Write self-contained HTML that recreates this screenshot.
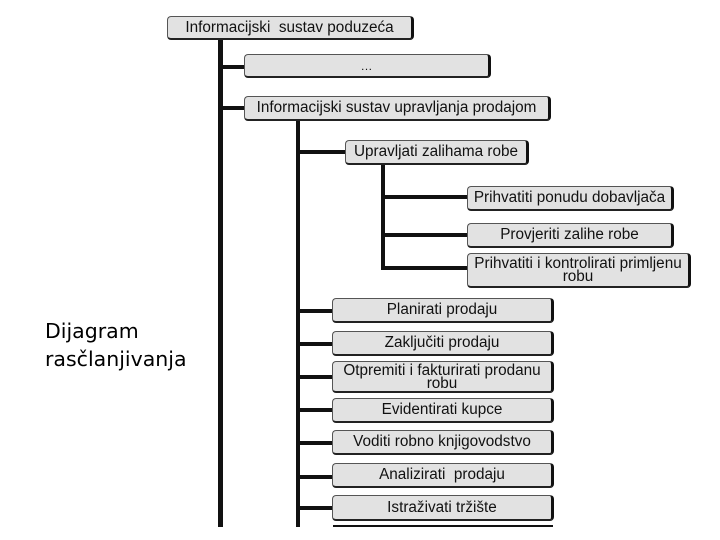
<!DOCTYPE html>
<html><head><meta charset="utf-8"><style>
body{margin:0;width:720px;height:540px;background:#fff;position:relative;overflow:hidden;font-family:"Liberation Sans",Arial,sans-serif}
.b{position:absolute;box-sizing:border-box;background:#e2e2e2;border:1px solid #555;border-right:3px solid #111;border-bottom:2px solid #222;border-radius:4px;font-size:15.3px;color:#111;text-align:center;line-height:14px;display:flex;align-items:center;justify-content:center;white-space:nowrap}
.l{position:absolute;background:#111}
.t{position:absolute;left:45px;top:317px;font-family:"DejaVu Sans",sans-serif;font-size:20.5px;line-height:28px;color:#000}
</style></head><body>
<div class="l" style="left:218px;top:38px;width:5px;height:489px"></div>
<div class="l" style="left:220px;top:65px;width:25px;height:4px"></div>
<div class="l" style="left:220px;top:106px;width:25px;height:4px"></div>
<div class="l" style="left:296px;top:120px;width:4px;height:407px"></div>
<div class="l" style="left:298px;top:150px;width:48px;height:4px"></div>
<div class="l" style="left:381px;top:164px;width:4px;height:106px"></div>
<div class="l" style="left:383px;top:195px;width:85px;height:4px"></div>
<div class="l" style="left:383px;top:233px;width:85px;height:4px"></div>
<div class="l" style="left:383px;top:266px;width:85px;height:4px"></div>
<div class="l" style="left:298px;top:309px;width:35px;height:4px"></div>
<div class="l" style="left:298px;top:342px;width:35px;height:4px"></div>
<div class="l" style="left:298px;top:375px;width:35px;height:4px"></div>
<div class="l" style="left:298px;top:408px;width:35px;height:4px"></div>
<div class="l" style="left:298px;top:441px;width:35px;height:4px"></div>
<div class="l" style="left:298px;top:475px;width:35px;height:4px"></div>
<div class="l" style="left:298px;top:506px;width:35px;height:4px"></div>
<div class="l" style="left:333px;top:525px;width:220px;height:2px"></div>

<div class="b" style="left:167px;top:16px;width:247px;height:24px">Informacijski &nbsp;sustav poduzeća</div>
<div class="b" style="left:244px;top:54px;width:247px;height:24px;font-size:12px">…</div>
<div class="b" style="left:244px;top:96px;width:307px;height:25px">Informacijski sustav upravljanja prodajom</div>
<div class="b" style="left:345px;top:140px;width:184px;height:25px">Upravljati zalihama robe</div>
<div class="b" style="left:467px;top:186px;width:207px;height:25px">Prihvatiti ponudu dobavljača</div>
<div class="b" style="left:467px;top:223px;width:207px;height:25px">Provjeriti zalihe robe</div>
<div class="b" style="left:467px;top:253px;width:224px;height:35px;line-height:13px">Prihvatiti i kontrolirati primljenu<br>robu</div>
<div class="b" style="left:332px;top:298px;width:222px;height:25px">Planirati prodaju</div>
<div class="b" style="left:332px;top:331px;width:222px;height:25px">Zaključiti prodaju</div>
<div class="b" style="left:332px;top:361px;width:222px;height:32px;line-height:13px">Otpremiti i fakturirati prodanu<br>robu</div>
<div class="b" style="left:332px;top:398px;width:222px;height:25px">Evidentirati kupce</div>
<div class="b" style="left:332px;top:430px;width:222px;height:25px">Voditi robno knjigovodstvo</div>
<div class="b" style="left:332px;top:463px;width:222px;height:25px">Analizirati &nbsp;prodaju</div>
<div class="b" style="left:332px;top:495px;width:222px;height:26px">Istraživati tržište</div>
<div class="t">Dijagram<br>rasčlanjivanja</div>
</body></html>
